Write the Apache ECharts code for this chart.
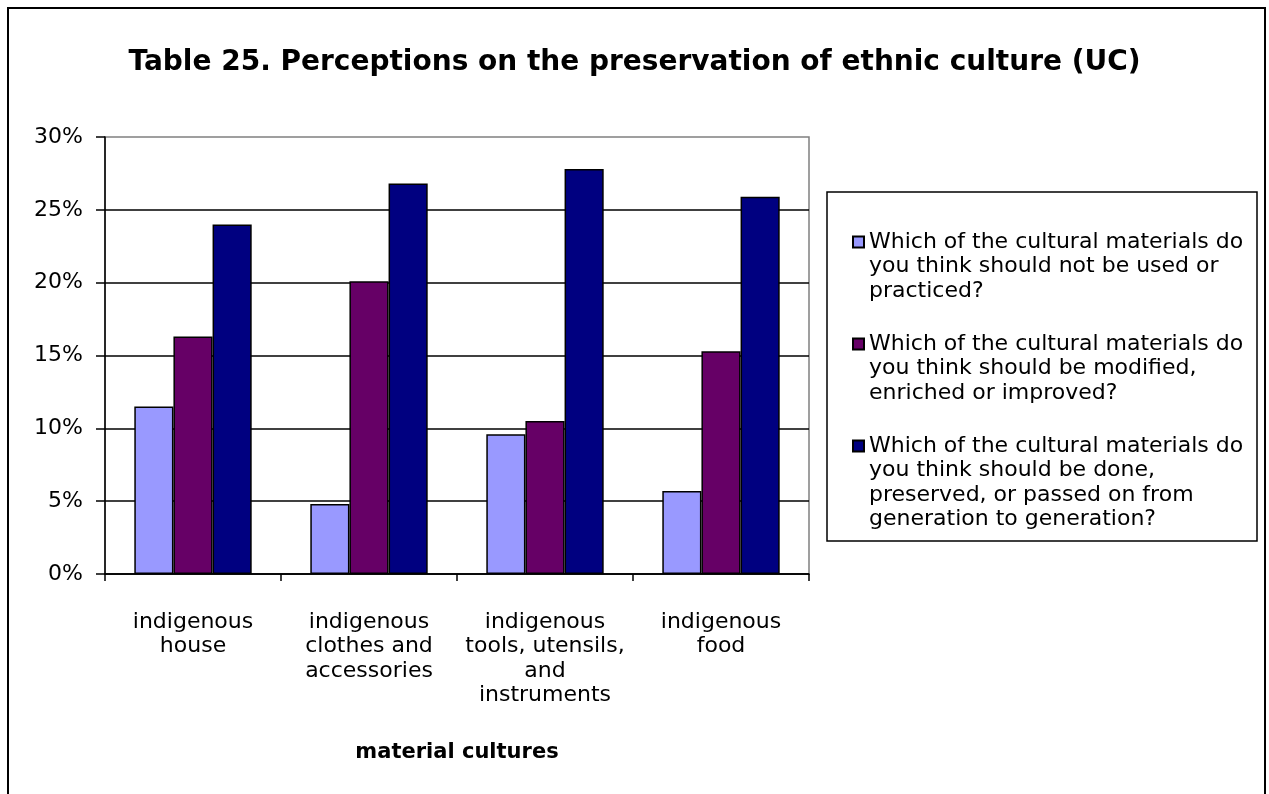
<!DOCTYPE html>
<html>
<head>
<meta charset="utf-8">
<script src="https://cdn.jsdelivr.net/npm/echarts@6/dist/echarts.min.js"></script>
<style>
html,body{margin:0;padding:0;background:#fff;}
#chart{width:1269px;height:794px;}
</style>
</head>
<body>
<div id="chart"></div>
<script>
const titleText = 'Table 25. Perceptions on the preservation of ethnic culture (UC)';
const categories = ['indigenous\nhouse', 'indigenous\nclothes and\naccessories', 'indigenous\ntools, utensils,\nand\ninstruments', 'indigenous\nfood'];
const seriesNames = [
  'Which of the cultural materials do you think should not be used or practiced?',
  'Which of the cultural materials do you think should be modified, enriched or improved?',
  'Which of the cultural materials do you think should be done, preserved, or passed on from generation to generation?'
];
const legendLabels = [
  'Which of the cultural materials do\nyou think should not be used or\npracticed?',
  'Which of the cultural materials do\nyou think should be modified,\nenriched or improved?',
  'Which of the cultural materials do\nyou think should be done,\npreserved, or passed on from\ngeneration to generation?'
];
const notUsed = [11.5, 4.8, 9.6, 5.7];
const modified = [16.3, 20.1, 10.5, 15.3];
const preserved = [24.0, 26.8, 27.8, 25.9];
const yTicks = [0, 5, 10, 15, 20, 25, 30];
const xAxisName = 'material cultures';

const colors = ['#9999FF', '#660066', '#000080'];
const seriesData = [notUsed, modified, preserved];
const FONT = 'DejaVu Sans';
const LH = 24.5;

const chart = echarts.init(document.getElementById('chart'), null, {renderer: 'canvas'});

// blank lines prepended so the icon (centred on the text block) sits beside the first line
const legendTops = [180.75, 282.75, 360.25];
const legends = seriesNames.map((name, i) => {
  const lines = legendLabels[i].split('\n').length;
  const pad = new Array(lines - 1).fill(' ').join('\n') + '\n';
  return {
    data: [name],
    orient: 'vertical',
    left: 852,
    top: legendTops[i],
    padding: 0,
    icon: 'rect',
    itemWidth: 11,
    itemHeight: 11,
    selectedMode: false,
    formatter: () => pad + legendLabels[i],
    textStyle: {
      fontFamily: FONT,
      fontSize: 22,
      color: '#000',
      lineHeight: LH
    }
  };
});

const option = {
  animation: false,
  backgroundColor: '#fff',
  textStyle: {fontFamily: FONT, color: '#000'},
  title: {
    text: titleText,
    left: 'center',
    top: 44,
    textStyle: {fontFamily: FONT, fontWeight: 'bold', fontSize: 28, color: '#000'}
  },
  legend: legends,
  grid: {
    left: 105, top: 137, width: 704, height: 437,
    show: true, borderColor: '#808080', borderWidth: 1.5, backgroundColor: 'transparent',
    containLabel: false
  },
  xAxis: {
    type: 'category',
    data: categories,
    name: xAxisName,
    nameLocation: 'middle',
    nameGap: 168,
    nameTextStyle: {fontFamily: FONT, fontWeight: 'bold', fontSize: 21, color: '#000'},
    axisLine: {lineStyle: {color: '#000', width: 1.5}},
    axisTick: {show: true, length: 7, lineStyle: {color: '#000', width: 1.5}},
    axisLabel: {fontFamily: FONT, fontSize: 22, color: '#000', lineHeight: LH, margin: 36, interval: 0, verticalAlign: 'top'},
    splitLine: {show: false}
  },
  yAxis: {
    type: 'value',
    min: yTicks[0],
    max: yTicks[yTicks.length - 1],
    interval: yTicks[1] - yTicks[0],
    axisLine: {show: true, lineStyle: {color: '#000', width: 1.5}},
    axisTick: {show: true, length: 9, lineStyle: {color: '#000', width: 1.5}},
    axisLabel: {fontFamily: FONT, fontSize: 22, color: '#000', margin: 22, formatter: '{value}%'},
    splitLine: {show: true, showMaxLine: false, lineStyle: {color: '#000', width: 1.5}}
  },
  series: seriesNames.map((name, i) => ({
    type: 'bar',
    name: name,
    data: seriesData[i],
    barGap: '0%',
    barCategoryGap: '33.3%',
    itemStyle: {color: colors[i], borderColor: '#000', borderWidth: 1.5}
  })),
  graphic: [
    {
      type: 'rect',
      shape: {x: 8, y: 8, width: 1257, height: 800},
      style: {fill: 'none', stroke: '#000', lineWidth: 2},
      silent: true, z: -1
    },
    {
      type: 'rect',
      shape: {x: 827, y: 192, width: 430, height: 349},
      style: {fill: 'none', stroke: '#000', lineWidth: 1.5},
      silent: true
    }
  ]
};
chart.setOption(option);
</script>
</body>
</html>
